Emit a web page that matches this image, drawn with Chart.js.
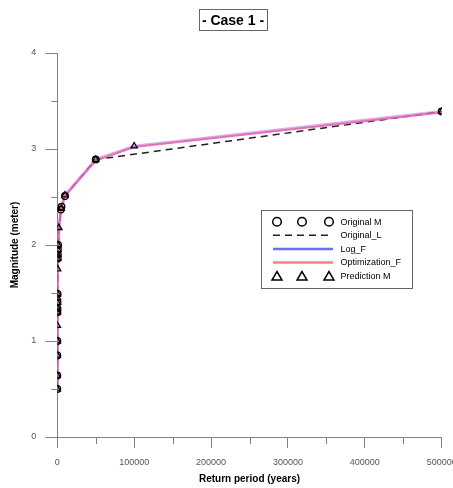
<!DOCTYPE html>
<html><head><meta charset="utf-8">
<script src="https://cdn.jsdelivr.net/npm/chart.js@4.4.0/dist/chart.umd.min.js"></script>
<style>html,body{margin:0;padding:0;background:#fff;overflow:hidden;} #wrap{width:470px;height:488px;}</style>
</head><body><div id="wrap"><canvas id="c" width="470" height="488"></canvas></div>
<script>
const chartTitle = '- Case 1 -';
const xAxisTitle = 'Return period (years)';
const yAxisTitle = 'Magnitude (meter)';

const xTickValues = [0, 100000, 200000, 300000, 400000, 500000];
const xMinorTicks = [50000, 150000, 250000, 350000, 450000];
const yTickValues = [0, 1, 2, 3, 4];
const yMinorTicks = [0.5, 1.5, 2.5, 3.5];

// Original M (circles) and Original_L (dashed line through them)
const originalReturnPeriod = [10, 20, 50, 100, 200, 250, 300, 400, 600, 700, 800, 1000, 4500, 5500, 10000, 50000, 500000];
const originalMagnitude    = [0.50, 0.64, 0.85, 1.00, 1.30, 1.34, 1.40, 1.49, 1.86, 1.90, 1.95, 2.00, 2.37, 2.40, 2.51, 2.89, 3.39];

// Prediction M (triangles)
const predictionReturnPeriod = [10, 20, 50, 100, 150, 200, 250, 300, 350, 400, 500, 600, 700, 800, 1000, 2000, 5000, 10000, 50000, 100000, 500000];
const predictionMagnitude    = [0.50, 0.64, 0.85, 1.00, 1.16, 1.30, 1.34, 1.40, 1.45, 1.49, 1.75, 1.86, 1.90, 1.95, 2.00, 2.18, 2.38, 2.52, 2.89, 3.03, 3.39];

// Log_F fitted line
const logFReturnPeriod = [10, 20, 50, 100, 150, 200, 250, 300, 350, 400, 500, 600, 700, 800, 1000, 2000, 5000, 10000, 50000, 100000, 500000];
const logFMagnitude    = [0.50, 0.64, 0.85, 1.00, 1.16, 1.30, 1.34, 1.40, 1.45, 1.49, 1.75, 1.86, 1.90, 1.95, 2.00, 2.18, 2.38, 2.52, 2.89, 3.03, 3.39];

// Optimization_F fitted line
const optFReturnPeriod = [10, 20, 50, 100, 150, 200, 250, 300, 350, 400, 500, 600, 700, 800, 1000, 2000, 5000, 10000, 50000, 100000, 500000];
const optFMagnitude    = [0.50, 0.64, 0.85, 1.00, 1.16, 1.30, 1.34, 1.40, 1.45, 1.49, 1.75, 1.86, 1.90, 1.95, 2.00, 2.18, 2.38, 2.51, 2.88, 3.02, 3.38];

const toXY = (xs, ys) => xs.map((x, i) => ({x: x, y: ys[i]}));
const FONT = '"Liberation Sans", Arial, sans-serif';

const decor = {
  id: 'decor',
  afterDraw(chart) {
    const ctx = chart.ctx;
    const xs = chart.scales.x, ys = chart.scales.y;
    ctx.save();
    // minor ticks
    ctx.strokeStyle = '#808080'; ctx.lineWidth = 1;
    xMinorTicks.forEach(v => {
      const p = Math.round(xs.getPixelForValue(v)) + 0.5;
      ctx.beginPath(); ctx.moveTo(p, xs.top); ctx.lineTo(p, xs.top + 7); ctx.stroke();
    });
    yMinorTicks.forEach(v => {
      const p = Math.round(ys.getPixelForValue(v)) + 0.5;
      ctx.beginPath(); ctx.moveTo(ys.right - 6, p); ctx.lineTo(ys.right, p); ctx.stroke();
    });
    // boxed title
    ctx.font = 'bold 14px ' + FONT;
    ctx.textAlign = 'center'; ctx.textBaseline = 'middle';
    const tw = ctx.measureText(chartTitle).width;
    const cx = 233, cy = 20;
    ctx.strokeStyle = '#666'; ctx.lineWidth = 1;
    ctx.strokeRect(Math.round(cx - tw / 2 - 3) + 0.5, 9.5, Math.round(tw + 6), 21);
    ctx.fillStyle = '#000';
    ctx.fillText(chartTitle, cx, cy + 1);

    // legend box
    ctx.strokeStyle = '#666';
    ctx.strokeRect(261.5, 210.5, 151, 78);
    const rowY0 = 221.7, rowStep = 13.6;
    const symX = [277, 302, 329];
    const ds = chart.data.datasets;
    const legendOrder = ['Original M', 'Original_L', 'Log_F', 'Optimization_F', 'Prediction M'];
    ctx.font = '9px ' + FONT;
    ctx.textAlign = 'left'; ctx.textBaseline = 'middle';
    legendOrder.forEach((name, i) => {
      const d = ds.find(s => s.label === name);
      const y = rowY0 + i * rowStep;
      ctx.save();
      if (d.pointStyle === 'circle') {
        ctx.strokeStyle = '#000'; ctx.lineWidth = 1.5;
        symX.forEach(sx => { ctx.beginPath(); ctx.arc(sx, y, 4.3, 0, Math.PI * 2); ctx.stroke(); });
      } else if (d.pointStyle === 'triangle') {
        ctx.strokeStyle = '#000'; ctx.lineWidth = 1.5;
        symX.forEach(sx => {
          ctx.beginPath();
          ctx.moveTo(sx, y - 4.5); ctx.lineTo(sx + 5, y + 4); ctx.lineTo(sx - 5, y + 4); ctx.closePath(); ctx.stroke();
        });
      } else {
        ctx.strokeStyle = d.legendColor || d.borderColor;
        ctx.lineWidth = d.legendWidth || d.borderWidth;
        ctx.setLineDash(d.borderDash || []);
        ctx.beginPath(); ctx.moveTo(273, y); ctx.lineTo(333, y); ctx.stroke();
      }
      ctx.restore();
      ctx.fillStyle = '#000';
      ctx.fillText(name, 340.5, y + 0.5);
    });
    ctx.restore();
  }
};

new Chart(document.getElementById('c'), {
  type: 'scatter',
  data: {
    datasets: [
      { label: 'Prediction M', data: toXY(predictionReturnPeriod, predictionMagnitude), pointStyle: 'triangle',
        pointRadius: 3.6, borderColor: '#000', backgroundColor: 'rgba(0,0,0,0)', borderWidth: 1.3, showLine: false, order: 0 },
      { label: 'Original M', data: toXY(originalReturnPeriod, originalMagnitude), pointStyle: 'circle',
        pointRadius: 3.3, borderColor: '#000', backgroundColor: 'rgba(0,0,0,0)', borderWidth: 1.3, showLine: false, order: 1 },
      { label: 'Optimization_F', data: toXY(optFReturnPeriod, optFMagnitude), showLine: true, pointRadius: 0,
        borderColor: 'rgba(232,95,165,0.8)', borderWidth: 2, legendColor: 'rgb(245,130,130)', legendWidth: 2.5, tension: 0, order: 2 },
      { label: 'Log_F', data: toXY(logFReturnPeriod, logFMagnitude), showLine: true, pointRadius: 0,
        borderColor: 'rgba(190,120,220,0.6)', borderWidth: 3, legendColor: 'rgb(110,110,240)', legendWidth: 2.5, tension: 0, order: 3 },
      { label: 'Original_L', data: toXY(originalReturnPeriod, originalMagnitude), showLine: true, pointRadius: 0,
        borderColor: '#222', borderWidth: 1.5, borderDash: [7, 5], tension: 0, order: 4 }
    ]
  },
  options: {
    responsive: false,
    animation: false,
    devicePixelRatio: 1,
    layout: { padding: { left: 0, top: 53, right: 28.3, bottom: 0 } },
    plugins: { legend: { display: false }, tooltip: { enabled: false }, title: { display: false } },
    scales: {
      x: {
        type: 'linear', position: 'bottom', min: 0, max: 500000,
        afterBuildTicks: s => { s.ticks = xTickValues.map(v => ({value: v})); },
        ticks: { color: '#555', font: { size: 9, family: FONT }, padding: 9, maxRotation: 0, autoSkip: false,
                 callback: v => String(v) },
        grid: { drawOnChartArea: false, drawTicks: true, tickLength: 11, color: '#808080' },
        border: { display: true, color: '#808080' },
        title: { display: true, text: xAxisTitle, color: '#000', font: { size: 10, weight: 'bold', family: FONT },
                 padding: { top: 0, bottom: 3 } },
        afterFit: s => { s.height = 51; }
      },
      y: {
        type: 'linear', position: 'left', min: 0, max: 4,
        afterBuildTicks: s => { s.ticks = yTickValues.map(v => ({value: v})); },
        ticks: { color: '#555', font: { size: 9, family: FONT }, padding: 9, callback: v => String(v) },
        grid: { drawOnChartArea: false, drawTicks: true, tickLength: 12, color: '#808080' },
        border: { display: true, color: '#808080' },
        title: { display: true, text: yAxisTitle, color: '#000', font: { size: 10, weight: 'bold', family: FONT },
                 padding: { top: 9, bottom: 0 } },
        afterFit: s => { s.width = 57.3; }
      }
    }
  },
  plugins: [decor]
});
</script>
</body></html>
